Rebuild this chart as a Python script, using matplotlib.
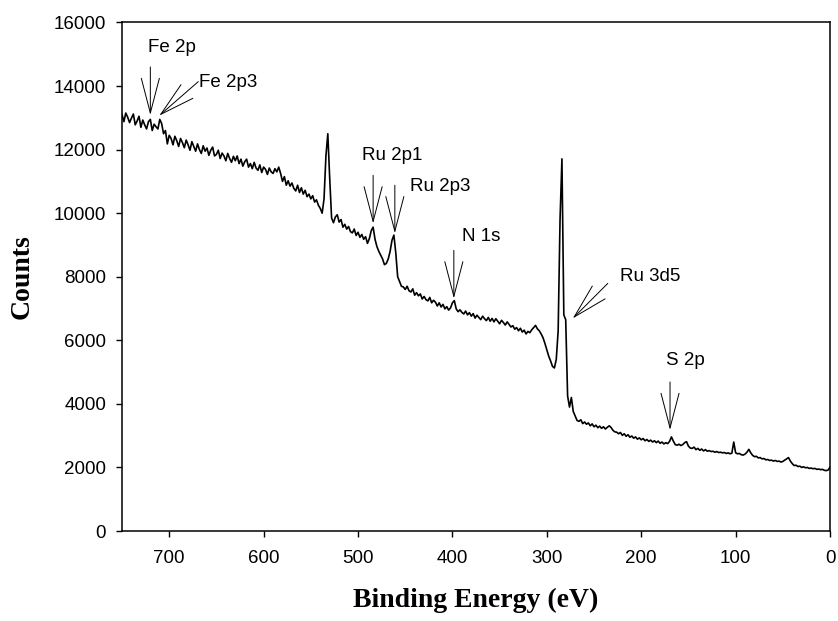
import numpy as np
import matplotlib
matplotlib.use("Agg")
import matplotlib.pyplot as plt

# XPS survey spectrum, binding energy from 750 eV down to 0 eV in 2 eV steps
binding_energy = np.arange(750, -1, -2)
counts = [
    13100, 12880, 13150, 13020, 12850, 12990, 13120, 12780, 12900, 13050,  # 750-732
    12700, 12930, 12780, 12650, 12880, 12950, 12600, 12800, 12720, 12650,  # 730-712
    12950, 12820, 12500, 12600, 12180, 12450, 12350, 12150, 12420, 12280,  # 710-692
    12100, 12350, 12220, 12060, 12300, 12150, 11980, 12250, 12100, 11950,  # 690-672
    12180, 12000, 11880, 12120, 11950, 12050, 11820, 11980, 12080, 11800,  # 670-652
    11850, 11980, 11720, 11890, 11800, 11650, 11880, 11720, 11600, 11790,  # 650-632
    11650, 11800, 11560, 11700, 11480, 11620, 11700, 11450, 11560, 11400,  # 630-612
    11600, 11420, 11350, 11520, 11280, 11450, 11380, 11220, 11420, 11300,  # 610-592
    11250, 11400, 11300, 11450, 11250, 11000, 11150, 10880, 11020, 10850,  # 590-572
    10950, 10780, 10700, 10880, 10650, 10800, 10600, 10720, 10520, 10600,  # 570-552
    10450, 10550, 10350, 10420, 10250, 10150, 10000, 10450, 11800, 12500,  # 550-532
    11100, 9850, 9700, 9880, 9950, 9720, 9800, 9560, 9650, 9500,           # 530-512
    9580, 9420, 9380, 9500, 9300, 9400, 9240, 9330, 9180, 9260,            # 510-492
    9050, 9200, 9450, 9560, 9180, 8950, 8800, 8680, 8560, 8380,            # 490-472
    8420, 8560, 8800, 9150, 9310, 8750, 8000, 7850, 7700, 7680,            # 470-452
    7600, 7700, 7560, 7520, 7620, 7420, 7500, 7400, 7460, 7300,            # 450-432
    7380, 7280, 7240, 7350, 7180, 7260, 7200, 7080, 7180, 7050,            # 430-412
    7130, 6990, 7060, 6950, 7020, 7180, 7250, 6990, 6900, 6960,            # 410-392
    6880, 6830, 6920, 6800, 6870, 6760, 6840, 6700, 6790, 6720,            # 390-372
    6650, 6760, 6680, 6620, 6720, 6600, 6690, 6580, 6680, 6600,            # 370-352
    6520, 6630, 6560, 6480, 6580, 6500, 6420, 6460, 6350, 6400,            # 350-332
    6300, 6380, 6260, 6320, 6200, 6280, 6240, 6330, 6400, 6470,            # 330-312
    6360, 6300, 6200, 6080, 5900, 5700, 5500, 5350, 5180, 5130,            # 310-292
    5400, 6300, 9800, 11710, 6800, 6650, 4250, 3900, 4200, 3760,           # 290-272
    3620, 3480, 3450, 3500, 3380, 3430, 3360, 3400, 3310, 3370,            # 270-252
    3280, 3330, 3250, 3300, 3230, 3280, 3210, 3260, 3310, 3260,            # 250-232
    3170, 3120, 3110, 3060, 3100, 3010, 3060, 2980, 3030, 2950,            # 230-212
    2990, 2920, 2960, 2890, 2930, 2870, 2910, 2840, 2880, 2820,            # 210-192
    2860, 2800, 2840, 2780, 2830, 2760, 2800, 2740, 2780, 2750,            # 190-172
    2820, 2960, 2830, 2720, 2700, 2730, 2690, 2720, 2780, 2810,            # 170-152
    2670, 2610, 2600, 2640, 2560, 2600, 2540, 2580, 2520, 2560,            # 150-132
    2510, 2530, 2500, 2510, 2480, 2500, 2470, 2480, 2460, 2470,            # 130-112
    2440, 2460, 2430, 2450, 2800, 2460, 2430, 2440, 2400, 2390,            # 110-92
    2420, 2480, 2570, 2460, 2380, 2340, 2350, 2300, 2310, 2270,            # 90-72
    2280, 2240, 2250, 2220, 2230, 2200, 2220, 2190, 2200, 2170,            # 70-52
    2190, 2230, 2270, 2310, 2200, 2120, 2060, 2070, 2030, 2040,            # 50-32
    2000, 2020, 1990, 2000, 1970, 1980, 1960, 1970, 1940, 1950,            # 30-12
    1930, 1940, 1910, 1900, 1920, 2010,                                    # 10-0
]

# peak labels: (text, tip BE, tip counts)
peak_labels = ["Fe 2p", "Fe 2p3", "Ru 2p1", "Ru 2p3", "N 1s", "Ru 3d5", "S 2p"]
peak_be = [720, 710.5, 484, 461, 398.5, 272.5, 169.5]
peak_counts = [13090, 13070, 9680, 9370, 7320, 6690, 3180]
# arrow tail and label offsets from the tip, in pixels
arrow_offsets = [(0, 48), (39, 34), (0, 48), (0, 48), (0, 48), (35, 35), (0, 48)]
label_offsets = [(-2, 67), (40, 33), (-11, 68), (15, 47), (8, 62), (47, 42), (-4, 69)]

plt.rcParams['font.family'] = 'Liberation Sans'

fig = plt.figure(figsize=(8.38, 6.21), dpi=100)
ax = fig.add_axes([0.1456, 0.1449, 0.8449, 0.8189])

ax.plot(binding_energy, counts, color='black', lw=1.2)

for lab, x, y, aoff, loff in zip(peak_labels, peak_be, peak_counts, arrow_offsets, label_offsets):
    ax.annotate('', xy=(x, y), xytext=aoff, textcoords='offset pixels',
                arrowprops=dict(arrowstyle='->,head_length=2.5,head_width=0.65',
                                mutation_scale=10, lw=0.7, color='black',
                                shrinkA=0, shrinkB=0))
    ax.annotate(lab, xy=(x, y), xytext=loff, textcoords='offset pixels',
                ha='left', va='center', fontsize=13.5)

ax.set_xlim(750, 0)
ax.set_ylim(0, 16000)
ax.set_xticks(range(700, -1, -100))
ax.set_yticks(range(0, 16001, 2000))
ax.tick_params(direction='out', length=4.5, width=1.0, labelsize=13.5)
ax.tick_params(axis='x', pad=9)
ax.tick_params(axis='y', pad=7)
for sp in ax.spines.values():
    sp.set_linewidth(1.1)

ax.set_xlabel('Binding Energy (eV)', fontfamily='Liberation Serif',
              fontweight='bold', fontsize=20, labelpad=15)
ax.set_ylabel('Counts', fontfamily='Liberation Serif',
              fontweight='bold', fontsize=20, labelpad=14)

fig.savefig('out.png', dpi=100)
